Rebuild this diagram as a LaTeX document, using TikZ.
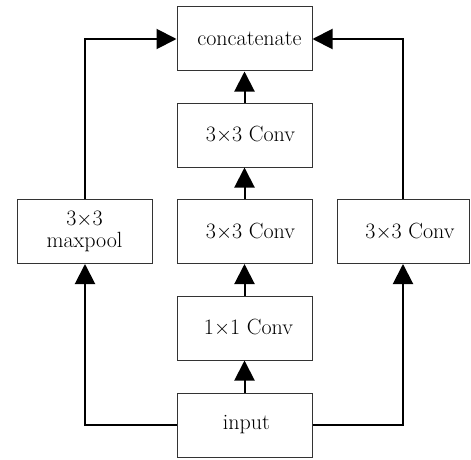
\documentclass[tikz,border=0pt]{standalone}
\usepackage{fontspec}
\setmainfont{Latin Modern Roman}
\usetikzlibrary{arrows.meta}
\begin{document}
\begin{tikzpicture}[x=1pt,y=-1pt,
  blk/.style={draw=black!80,line width=1pt,minimum width=135pt,minimum height=64pt,inner sep=0pt,font=\fontsize{22}{22}\selectfont,align=center},
  conn/.style={line width=2pt,-{Triangle[length=20pt,width=20pt]}}]
\useasboundingbox (0,0) rectangle (471,460);
\node[blk] (cat) at (244.5,39) {\hspace*{10pt}concatenate};
\node[blk] (c3) at (244.5,135) {\hspace*{12pt}3$\times$3 Conv};
\node[blk] (c2) at (244.5,231.5) {\hspace*{12pt}3$\times$3 Conv};
\node[blk] (c1) at (244.5,328) {\hspace*{8pt}1$\times$1 Conv};
\node[blk] (in) at (244.5,425) {\hspace*{4pt}input};
\node[blk] (mp) at (84.5,231.5) {3$\times$3\\maxpool};
\node[blk,minimum width=132pt] (rc) at (403,231.5) {\hspace*{14pt}3$\times$3 Conv};
\coordinate (lb) at (85,425);
\coordinate (rb) at (403,425);
\coordinate (lt) at (85,39);
\coordinate (rt) at (403,39);
\draw[conn] (in) -- (c1);
\draw[conn] (c1) -- (c2);
\draw[conn] (c2) -- (c3);
\draw[conn] (c3) -- (cat);
\draw[conn] (in.west) -- (lb) -- (lb |- mp.south);
\draw[conn] (in.east) -- (rb) -- (rb |- rc.south);
\draw[conn] (lt |- mp.north) -- (lt) -- (cat.west);
\draw[conn] (rt |- rc.north) -- (rt) -- (cat.east);
\end{tikzpicture}
\end{document}
